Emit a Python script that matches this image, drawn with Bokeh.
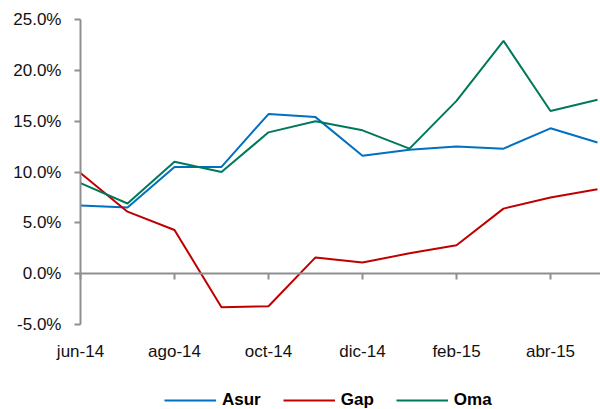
from bokeh.plotting import figure
from bokeh.models import (Range1d, LinearAxis, FixedTicker, PrintfTickFormatter,
                          Legend, LegendItem, ColumnDataSource)
from bokeh.embed import file_html
from bokeh.resources import INLINE

months = ["jun-14", "jul-14", "ago-14", "sep-14", "oct-14", "nov-14",
          "dic-14", "ene-15", "feb-15", "mar-15", "abr-15", "may-15"]
asur = [6.7, 6.5, 10.5, 10.5, 15.7, 15.4, 11.6, 12.2, 12.5, 12.3, 14.3, 12.9]
gap = [9.9, 6.1, 4.3, -3.3, -3.2, 1.6, 1.1, 2.0, 2.8, 6.4, 7.5, 8.3]
oma = [8.9, 6.9, 11.0, 10.0, 13.9, 15.0, 14.1, 12.3, 17.0, 22.9, 16.0, 17.1]
y_ticks = [-5, 0, 5, 10, 15, 20, 25]
x_tick_idx = list(range(0, len(months), 2))

idx = list(range(len(months)))
src = ColumnDataSource(dict(x=idx, asur=asur, gap=gap, oma=oma))

FONT = "Liberation Sans"
AXIS_GRAY = "#8f8f8f"
Y_MIN, Y_MAX = y_ticks[0], y_ticks[-1]
X_END = 11.064

# the frame covers the whole canvas; axes are pinned at data locations
p = figure(width=600, height=409, output_backend="svg", toolbar_location=None,
           x_range=Range1d(-1.702, X_END), y_range=Range1d(-13.36, 26.87),
           x_axis_location=None, y_axis_location=None,
           min_border_left=0, min_border_right=0, min_border_top=0,
           min_border_bottom=0)
p.outline_line_color = None
p.xgrid.visible = False
p.ygrid.visible = False

r_asur = p.line("x", "asur", source=src, line_color="#0070C0", line_width=2)
r_gap = p.line("x", "gap", source=src, line_color="#C00000", line_width=2)
r_oma = p.line("x", "oma", source=src, line_color="#00785A", line_width=2)

# y axis pinned at the first month
ya = LinearAxis(fixed_location=0, bounds=(Y_MIN, Y_MAX),
                ticker=FixedTicker(ticks=y_ticks),
                formatter=PrintfTickFormatter(format="%.1f%%"))
ya.axis_line_color = AXIS_GRAY
ya.axis_line_width = 2
ya.major_tick_line_color = AXIS_GRAY
ya.major_tick_line_width = 2
ya.major_tick_out = 6
ya.major_tick_in = 0
ya.minor_tick_line_color = None
ya.major_label_text_font = FONT
ya.major_label_text_font_size = "17px"
ya.major_label_text_color = "#111111"
ya.major_label_standoff = 13
p.add_layout(ya, "left")

# category labels placed under the -5% level
xa = LinearAxis(fixed_location=Y_MIN, ticker=FixedTicker(ticks=x_tick_idx))
xa.major_label_overrides = {i: months[i] for i in x_tick_idx}
xa.axis_line_color = None
xa.major_tick_line_color = None
xa.major_tick_out = 0
xa.major_tick_in = 0
xa.minor_tick_line_color = None
xa.major_label_text_font = FONT
xa.major_label_text_font_size = "17px"
xa.major_label_text_color = "#111111"
xa.major_label_standoff = 17
p.add_layout(xa, "below")

# zero-line axis with tick marks
za = LinearAxis(fixed_location=0, bounds=(0, X_END),
                ticker=FixedTicker(ticks=x_tick_idx))
za.axis_line_color = AXIS_GRAY
za.axis_line_width = 2
za.major_tick_line_color = AXIS_GRAY
za.major_tick_line_width = 2
za.major_tick_out = 6
za.major_tick_in = 0
za.minor_tick_line_color = None
za.major_label_text_color = None
za.major_label_text_font_size = "1px"
p.add_layout(za, "below")

legend = Legend(items=[LegendItem(label="Asur", renderers=[r_asur]),
                       LegendItem(label="Gap", renderers=[r_gap]),
                       LegendItem(label="Oma", renderers=[r_oma])],
                orientation="horizontal", location=(164, -1),
                glyph_width=52, glyph_height=20, label_standoff=6, spacing=22,
                padding=0, margin=0, border_line_color=None,
                background_fill_alpha=0,
                label_text_font=FONT, label_text_font_size="17px",
                label_text_font_style="bold", label_text_color="#000000")
p.add_layout(legend, "center")

open("out.html", "w").write(file_html(p, INLINE))
